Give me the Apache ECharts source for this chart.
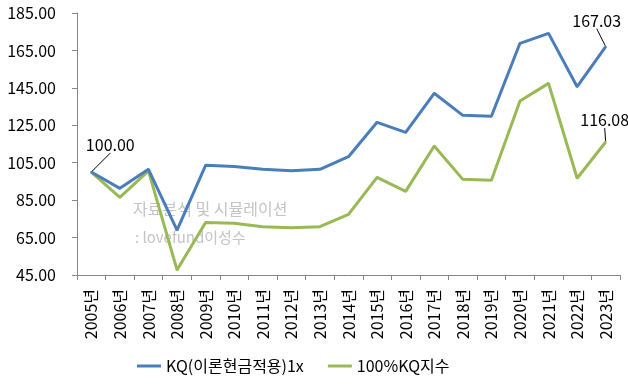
<!DOCTYPE html>
<html><head><meta charset="utf-8">
<script src="https://cdn.jsdelivr.net/npm/echarts@6/dist/echarts.min.js"></script>
<style>html,body{margin:0;padding:0;background:#fff}#c{width:628px;height:387px}</style>
</head><body><div id="c"></div>
<script>
const categories = ['2005년','2006년','2007년','2008년','2009년','2010년','2011년','2012년','2013년','2014년','2015년','2016년','2017년','2018년','2019년','2020년','2021년','2022년','2023년'];
const seriesNames = ['KQ(이론현금적용)1x','100%KQ지수'];
const kqTheory = [100.00,91.3,101.5,69.0,103.6,103.0,101.5,100.7,101.5,108.2,126.6,121.2,142.1,130.3,129.8,168.8,174.1,145.6,167.03];
const kqIndex = [100.00,86.5,100.6,47.7,73.1,72.6,70.8,70.3,70.8,77.4,97.2,89.7,113.9,96.1,95.6,138.0,147.4,96.7,116.08];
const yTicks = {min:45, max:185, interval:20};
const FONT = '"Noto Sans CJK KR", "Noto Sans", sans-serif';
const chart = echarts.init(document.getElementById('c'));
function mk(arr, labelIdx){
  return arr.map((v,i)=> labelIdx.includes(i) ? {value:v, label:{show:true}, labelLine:{show:true}} : v);
}
chart.setOption({
  animation:false,
  textStyle:{fontFamily:FONT},
  grid:{left:77,right:8,top:13,bottom:112},
  legend:{
    left:137, top:358, padding:0, itemWidth:24, itemHeight:3, itemGap:24,
    icon:'rect',
    textStyle:{fontSize:16,color:'#000',fontFamily:FONT},
    data:seriesNames
  },
  xAxis:{
    type:'category', data:categories, boundaryGap:true,
    axisLine:{lineStyle:{color:'#868686'}},
    axisTick:{show:true,length:5,lineStyle:{color:'#868686'}},
    axisLabel:{rotate:90,interval:0,fontSize:16,color:'#000',margin:14,fontFamily:FONT}
  },
  yAxis:{
    type:'value', min:yTicks.min, max:yTicks.max, interval:yTicks.interval,
    splitLine:{show:false},
    axisLine:{show:true,lineStyle:{color:'#868686'}},
    axisTick:{show:true,length:5,lineStyle:{color:'#868686'}},
    axisLabel:{fontSize:16,color:'#000',margin:21,formatter:v=>v.toFixed(2),fontFamily:FONT}
  },
  graphic:[
    {type:'text',left:133,top:201,style:{text:'자료분석 및 시뮬레이션',fill:'#c4c4c4',font:'16px '+FONT}},
    {type:'text',left:135,top:230,style:{text:': lovefund이성수',fill:'#c4c4c4',font:'15px '+FONT}}
  ],
  series:[
    {name:seriesNames[0],type:'line',data:mk(kqTheory,[0,18]),symbol:'circle',symbolSize:2,showSymbol:true,z:3,
     lineStyle:{width:3,color:'#4a7ebb'},itemStyle:{color:'#4a7ebb'},
     label:{show:false,position:'top',fontSize:16,color:'#000',formatter:p=>p.value.toFixed(2)},
     labelLine:{show:true,lineStyle:{color:'#000',width:1}},
     labelLayout:p=> p.dataIndex===0 ? {dx:19,dy:-13} : {dx:-9,dy:-12}
    },
    {name:seriesNames[1],type:'line',data:mk(kqIndex,[18]),symbol:'circle',symbolSize:2,showSymbol:true,z:2,
     lineStyle:{width:3,color:'#98b954'},itemStyle:{color:'#98b954'},
     label:{show:false,position:'top',fontSize:16,color:'#000',formatter:p=>p.value.toFixed(2)},
     labelLine:{show:true,lineStyle:{color:'#000',width:1}},
     labelLayout:p=>({dx:-1,dy:-8})
    }
  ]
});
</script></body></html>
